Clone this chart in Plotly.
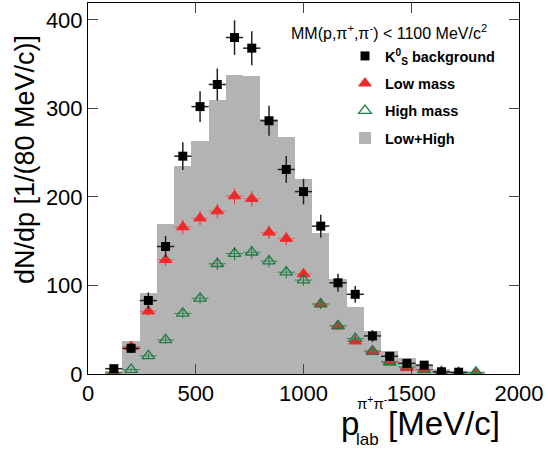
import plotly.graph_objects as go

# ---- data ----
p_centers = [120, 200, 280, 360, 440, 520, 600, 680, 760, 840, 920, 1000,
             1080, 1160, 1240, 1320, 1400, 1480, 1560, 1640, 1720, 1800]

ks_bkg = [6, 29, 83, 144, 246, 302, 327, 380, 368, 286, 231, 206,
          167, 103, 90, 43, 20, 12, 10, 2.5, 2]
ks_bkg_err = [2.5, 5.4, 9.1, 12, 15.7, 17.3, 18, 19.5, 19.2, 16.9, 15.2, 14.4,
              12.9, 10.1, 9.5, 6.6, 4.5, 3.5, 3.2, 1.6, 1.4]

low_mass = [2, 31, 71, 129, 166, 176, 184, 201, 198, 160, 153, 113,
            79, 54, 37, 25, 13, 7, 4.5, 2, 1, 1.5]
low_mass_err = [1, 3, 5, 7, 8, 8, 8, 8.5, 8.5, 7.5, 7.5, 6.5,
                5.5, 4.5, 4, 3, 2.5, 2, 1.5, 1, 1, 1]

high_mass = [1, 5, 20.5, 38.5, 68.5, 85.5, 124.5, 136, 137.5, 127.5, 115, 106,
             79, 54.5, 40, 26, 14, 8, 5, 2.5, 1.5, 2]
high_mass_err = [1, 1.5, 3, 4, 5.5, 6, 7, 7.5, 7.5, 7, 7, 6.5,
                 5.5, 4.5, 4, 3, 2.5, 2, 1.5, 1, 1, 1]

low_plus_high = [3, 37, 91, 169, 235, 263, 310, 338, 337, 288, 268, 220,
                 159, 107, 76, 49, 26, 18, 10, 5.6, 2.6, 1.5]

bin_width = 80
x_ticks = [0, 500, 1000, 1500, 2000]
y_ticks = [0, 100, 200, 300, 400]

FONT = "Arial, Liberation Sans, sans-serif"

fig = go.Figure()

fig.add_trace(go.Bar(
    x=p_centers, y=low_plus_high, width=bin_width,
    marker=dict(color="#b3b3b3", line=dict(width=0)),
    name="Low+High", legendgroup="d", legendrank=4,
))

fig.add_trace(go.Scatter(
    x=p_centers, y=low_mass, mode="markers",
    marker=dict(symbol="triangle-up", size=11, color="#ee2a2a",
                line=dict(color="#ee2a2a", width=1)),
    error_x=dict(type="constant", value=bin_width / 2, color="#f06060",
                 thickness=1, width=0),
    error_y=dict(type="data", array=low_mass_err, color="#ee2a2a",
                 thickness=1, width=0),
    name="Low mass", legendgroup="b", legendrank=2,
))

fig.add_trace(go.Scatter(
    x=p_centers, y=high_mass, mode="markers",
    marker=dict(symbol="triangle-up-open", size=11, color="#1f7a45",
                line=dict(color="#1f7a45", width=1.3)),
    error_x=dict(type="constant", value=bin_width / 2, color="#2f8a55",
                 thickness=1, width=0),
    error_y=dict(type="data", array=high_mass_err, color="#1f7a45",
                 thickness=1, width=0),
    name="High mass", legendgroup="c", legendrank=3,
))

fig.add_trace(go.Scatter(
    x=p_centers[:len(ks_bkg)], y=ks_bkg, mode="markers",
    marker=dict(symbol="square", size=9, color="black"),
    error_x=dict(type="constant", value=bin_width / 2, color="#222222",
                 thickness=1.5, width=0),
    error_y=dict(type="data", array=ks_bkg_err, color="#222222",
                 thickness=1.5, width=0),
    name="K<sup>0</sup><sub>S</sub> background", legendgroup="a", legendrank=1,
))

L, R, T, B = 88, 29, 3, 78
W, H = 548, 452
pw, ph = W - L - R, H - T - B


def px_x(px):
    return (px - L) / pw


def px_y(py):
    return (H - B - py) / ph


annotations = [
    dict(text="MM(p,π<sup>+</sup>,π<sup>-</sup>) &lt; 1100 MeV/c<sup>2</sup>",
         x=px_x(489), y=px_y(32), xref="paper", yref="paper",
         xanchor="right", yanchor="middle", showarrow=False,
         font=dict(family=FONT, size=16, color="black")),
    dict(text="dN/dp [1/(80 MeV/c)]", textangle=-90,
         x=px_x(25), y=px_y(160), xref="paper", yref="paper",
         xanchor="center", yanchor="middle", showarrow=False,
         font=dict(family=FONT, size=27, color="black")),
    dict(text="p", x=px_x(339), y=px_y(423), xref="paper", yref="paper",
         xanchor="left", yanchor="middle", showarrow=False,
         font=dict(family=FONT, size=33, color="black")),
    dict(text="π<sup>+</sup>π<sup>-</sup>", x=px_x(355), y=px_y(403),
         xref="paper", yref="paper", xanchor="left", yanchor="middle",
         showarrow=False, font=dict(family=FONT, size=15, color="black")),
    dict(text="lab", x=px_x(354), y=px_y(439), xref="paper", yref="paper",
         xanchor="left", yanchor="middle", showarrow=False,
         font=dict(family=FONT, size=17, color="black")),
    dict(text="[MeV/c]", x=px_x(386), y=px_y(424), xref="paper", yref="paper",
         xanchor="left", yanchor="middle", showarrow=False,
         font=dict(family=FONT, size=33, color="black")),
]

axis_common = dict(
    showline=True, linecolor="black", linewidth=1, mirror="ticks",
    ticks="inside", ticklen=10, tickcolor="#444444", tickwidth=1,
    showgrid=False, zeroline=False,
    tickfont=dict(family=FONT, size=22, color="black"),
)

fig.update_layout(
    width=W, height=H,
    margin=dict(l=L, r=R, t=T, b=B),
    paper_bgcolor="white", plot_bgcolor="white",
    bargap=0,
    xaxis=dict(range=[0, 2000], tickvals=x_ticks, **axis_common),
    yaxis=dict(range=[0, 419], tickvals=y_ticks, **axis_common),
    showlegend=True,
    legend=dict(x=px_x(345), y=px_y(40), xanchor="left", yanchor="top",
                bgcolor="rgba(0,0,0,0)", borderwidth=0,
                font=dict(family=FONT, size=14.5, color="black", weight="bold"),
                itemwidth=30, tracegroupgap=5.5, traceorder="grouped"),
    annotations=annotations,
)

fig.write_html("out.html")
